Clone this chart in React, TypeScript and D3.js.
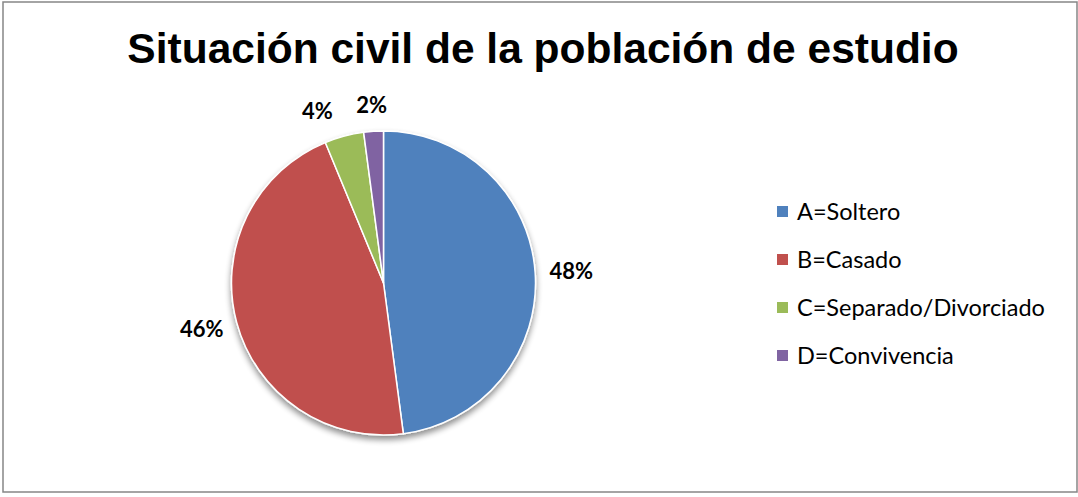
import { useMemo } from 'react'
import * as d3 from 'd3'

const categories = ['A=Soltero', 'B=Casado', 'C=Separado/Divorciado', 'D=Convivencia']
const counts = [23, 22, 2, 1]
const colors = ['#4F81BD', '#C0504D', '#9BBB59', '#8064A2']

const W = 1078
const H = 497

export default function App() {
  const cx = 383.5
  const cy = 283
  const r = 152

  const arcs = useMemo(() => d3.pie<number>().sort(null)(counts), [])
  const arcGen = d3.arc<d3.PieArcDatum<number>>().innerRadius(0).outerRadius(r)
  const total = d3.sum(counts)

  const labelFont = 22
  const legendY = d3.scaleBand<string>().domain(categories).range([188, 380]).paddingInner(0)

  // label boxes placed just outside the rim, like Excel's "best fit"
  const labels = arcs.map((a) => {
    const mid = (a.startAngle + a.endAngle) / 2
    const text = Math.round((a.data / total) * 100) + '%'
    const w = text.length * labelFont * 0.55
    const h = labelFont * 0.72
    const rr = r + 18
    return {
      text,
      w,
      h,
      x: rr * Math.sin(mid) + (w / 2) * Math.sin(mid),
      y: -rr * Math.cos(mid) - (h / 2) * Math.cos(mid),
    }
  })
  // keep small neighbouring labels apart
  for (let i = labels.length - 2; i >= 0; i--) {
    const a = labels[i]
    const b = labels[i + 1]
    if (Math.abs(a.y - b.y) < a.h && a.x < b.x) {
      const gap = b.x - b.w / 2 - (a.x + a.w / 2)
      if (gap < 30) a.x -= 30 - gap
    }
  }

  return (
    <svg
      width={W}
      height={H}
      style={{ position: 'absolute', left: 0, top: 0, background: '#fff' }}
    >
      <defs>
        <filter id="pieShadow" x="-20%" y="-20%" width="140%" height="140%">
          <feGaussianBlur in="SourceAlpha" stdDeviation="3" />
          <feOffset dx="0" dy="4" result="blur" />
          <feComponentTransfer>
            <feFuncA type="linear" slope="0.45" />
          </feComponentTransfer>
          <feMerge>
            <feMergeNode />
            <feMergeNode in="SourceGraphic" />
          </feMerge>
        </filter>
      </defs>
      <rect x={3} y={2} width={1074} height={490} fill="#fff" stroke="#868686" strokeWidth={1.5} />

      <text
        x={543}
        y={63}
        textAnchor="middle"
        fontFamily="'Liberation Sans', Arial, sans-serif"
        fontWeight="bold"
        fontSize={42.5}
        fill="#000"
      >
        Situación civil de la población de estudio
      </text>

      <g transform={`translate(${cx},${cy})`}>
        <g filter="url(#pieShadow)">
          {arcs.map((a, i) => (
            <path key={i} d={arcGen(a) || ''} fill={colors[i]} stroke="#fff" strokeWidth={1.5} strokeLinejoin="round" />
          ))}
        </g>
        {labels.map((l, i) => (
          <text
            key={i}
            x={l.x}
            y={l.y + l.h / 2}
            textAnchor="middle"
            fontFamily="Lato, 'Open Sans', sans-serif"
            fontWeight="bold"
            fontSize={labelFont}
            fill="#000"
          >
            {l.text}
          </text>
        ))}
      </g>

      <g fontFamily="Lato, 'Open Sans', sans-serif" fontSize={23.5} fill="#000">
        {categories.map((c, i) => {
          const yc = (legendY(c) || 0) + legendY.bandwidth() / 2
          return (
            <g key={c}>
              <rect x={777} y={yc - 6} width={11} height={11} fill={colors[i]} />
              <text x={797} y={yc + 8}>{c}</text>
            </g>
          )
        })}
      </g>
    </svg>
  )
}
